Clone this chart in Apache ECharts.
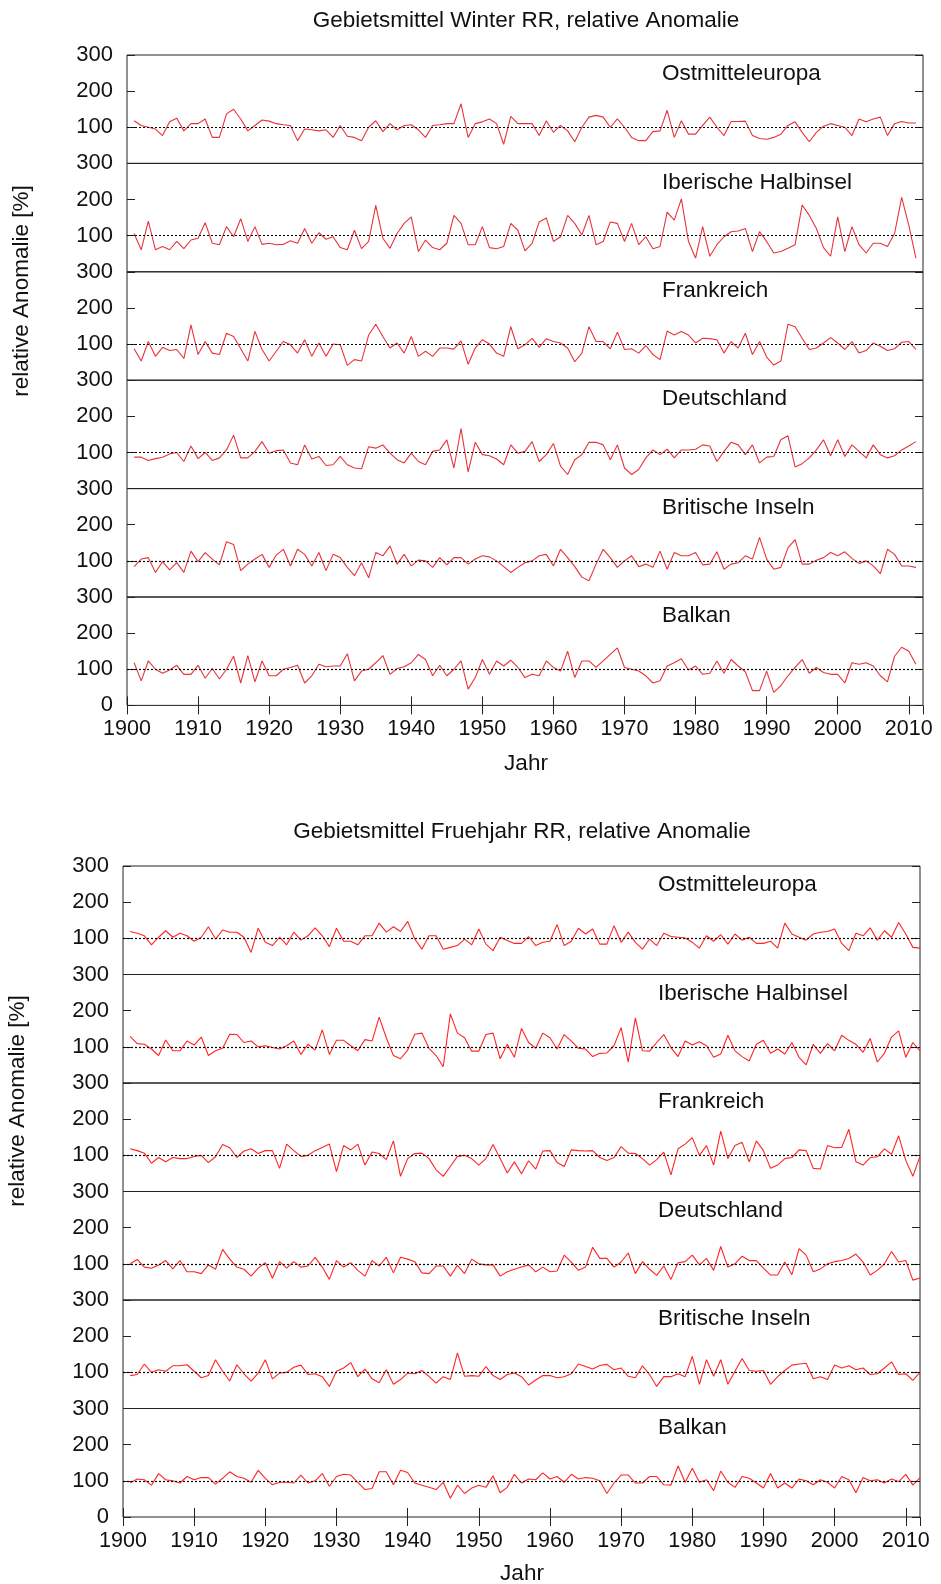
<!DOCTYPE html>
<html>
<head>
<meta charset="utf-8">
<title>Gebietsmittel RR, relative Anomalie</title>
<script src="https://cdn.jsdelivr.net/npm/echarts@6/dist/echarts.min.js"></script>
<style>
  html, body { margin: 0; padding: 0; background: #fff; }
  #chart { width: 941px; height: 1584px; }
</style>
</head>
<body>
<div id="chart"></div>
<script>
// Regionen (Reihenfolge von oben nach unten)
const regions = ['Ostmitteleuropa', 'Iberische Halbinsel', 'Frankreich', 'Deutschland', 'Britische Inseln', 'Balkan']

// Winter, 1901-2011, relative Anomalie in %
const winterStartYear = 1901
const winterOst = [
  118, 105, 100, 95, 77, 115, 125, 90, 110, 110,
  123, 72, 72, 137, 150, 123, 90, 105, 120, 117,
  110, 107, 105, 63, 95, 93, 90, 93, 72, 105,
  75, 72, 63, 100, 118, 88, 110, 93, 105, 107,
  93, 72, 105, 107, 110, 110, 165, 72, 110, 115,
  123, 110, 53, 130, 110, 110, 110, 77, 118, 86,
  105, 90, 60, 100, 128, 133, 128, 100, 123, 100,
  72, 63, 63, 88, 90, 147, 72, 118, 81, 81,
  105, 128, 100, 77, 116, 116, 117, 77, 69, 67,
  72, 81, 105, 115, 86, 60, 86, 103, 110, 105,
  100, 77, 123, 115, 123, 128, 77, 110, 116, 112,
  112
]
const winterIber = [
  106, 61, 140, 61, 70, 61, 84, 64, 88, 93,
  136, 79, 75, 125, 97, 147, 84, 125, 76, 79,
  75, 76, 86, 79, 120, 79, 108, 90, 97, 67,
  61, 115, 64, 84, 184, 93, 65, 106, 134, 152,
  56, 88, 67, 61, 79, 156, 134, 75, 75, 125,
  67, 64, 70, 134, 115, 58, 79, 138, 149, 84,
  97, 156, 134, 102, 156, 75, 84, 138, 134, 84,
  134, 75, 97, 64, 70, 165, 143, 202, 84, 38,
  125, 43, 75, 97, 111, 113, 120, 56, 111, 84,
  52, 56, 65, 75, 185, 156, 120, 67, 43, 152,
  56, 125, 75, 52, 79, 79, 70, 106, 206, 129,
  38
]
const winterFra = [
  87, 53, 107, 66, 91, 82, 85, 60, 153, 71,
  107, 75, 71, 130, 121, 87, 53, 135, 85, 53,
  80, 107, 98, 75, 112, 66, 103, 66, 100, 98,
  41, 57, 53, 125, 155, 121, 89, 103, 75, 121,
  66, 80, 66, 89, 89, 86, 109, 44, 89, 112,
  100, 75, 66, 148, 87, 98, 116, 91, 115, 107,
  103, 89, 51, 75, 148, 107, 107, 87, 133, 85,
  87, 75, 96, 71, 57, 136, 125, 135, 125, 103,
  116, 115, 112, 75, 107, 89, 130, 71, 107, 64,
  42, 53, 155, 148, 116, 85, 89, 103, 118, 103,
  85, 107, 75, 82, 103, 94, 82, 87, 105, 107,
  85
]
const winterDeu = [
  87, 87, 78, 83, 87, 96, 100, 75, 118, 83,
  100, 78, 85, 107, 148, 85, 85, 103, 130, 98,
  105, 107, 71, 66, 121, 82, 89, 64, 66, 89,
  66, 57, 55, 116, 112, 121, 98, 80, 71, 98,
  75, 66, 103, 107, 135, 57, 166, 46, 128, 94,
  91, 82, 66, 121, 98, 103, 130, 75, 94, 125,
  62, 39, 80, 94, 128, 128, 121, 80, 121, 57,
  39, 53, 85, 107, 94, 109, 85, 107, 107, 109,
  121, 118, 75, 103, 128, 121, 94, 121, 71, 87,
  89, 135, 146, 60, 69, 85, 107, 135, 91, 135,
  89, 121, 103, 85, 121, 94, 85, 91, 107, 118,
  130
]
const winterBrit = [
  84, 105, 109, 68, 98, 75, 95, 68, 127, 98,
  123, 105, 89, 153, 145, 73, 91, 105, 118, 82,
  116, 132, 86, 132, 118, 86, 123, 73, 118, 109,
  82, 59, 95, 53, 123, 114, 141, 91, 118, 86,
  102, 100, 82, 109, 89, 109, 109, 91, 105, 114,
  111, 100, 84, 68, 82, 95, 100, 114, 118, 86,
  132, 109, 84, 55, 45, 91, 132, 109, 82, 100,
  114, 84, 91, 82, 127, 77, 123, 114, 114, 123,
  89, 91, 125, 77, 91, 95, 114, 105, 165, 105,
  77, 82, 136, 159, 91, 91, 102, 109, 123, 114,
  125, 107, 93, 100, 86, 65, 132, 118, 86, 86,
  82
]
const winterBalk = [
  118, 68, 123, 100, 89, 98, 111, 86, 86, 111,
  75, 102, 73, 100, 136, 62, 138, 65, 123, 82,
  82, 100, 105, 111, 62, 82, 114, 107, 109, 109,
  143, 68, 95, 100, 118, 138, 86, 102, 107, 118,
  141, 127, 82, 111, 82, 100, 123, 45, 77, 127,
  86, 123, 109, 125, 105, 77, 86, 82, 123, 105,
  95, 150, 77, 123, 123, 105, 123, 141, 159, 105,
  100, 95, 82, 62, 68, 109, 118, 129, 98, 109,
  86, 89, 123, 89, 127, 109, 93, 41, 41, 95,
  36, 55, 82, 105, 127, 89, 105, 91, 86, 86,
  62, 118, 114, 118, 109, 82, 65, 136, 161, 150,
  114
]

// Fruehjahr, 1901-2012, relative Anomalie in %
const springStartYear = 1901
const springOst = [
  119, 114, 107, 82, 103, 121, 103, 114, 107, 92,
  103, 132, 98, 123, 117, 117, 103, 61, 128, 89,
  80, 103, 82, 117, 95, 107, 129, 107, 77, 128,
  92, 92, 82, 107, 107, 142, 117, 132, 119, 147,
  98, 70, 107, 107, 70, 75, 80, 98, 82, 126,
  84, 66, 103, 94, 86, 86, 105, 80, 89, 92,
  138, 80, 92, 128, 112, 126, 84, 84, 135, 89,
  117, 89, 70, 98, 80, 114, 105, 103, 101, 89,
  73, 107, 92, 110, 84, 112, 95, 103, 86, 86,
  92, 73, 142, 112, 103, 95, 112, 117, 119, 126,
  86, 66, 114, 107, 129, 95, 121, 103, 144, 112,
  75, 73
]
const springIber = [
  129, 109, 107, 94, 76, 119, 89, 89, 116, 105,
  127, 76, 89, 96, 135, 134, 112, 116, 100, 103,
  98, 94, 103, 116, 79, 107, 91, 147, 79, 118,
  118, 103, 89, 120, 116, 182, 125, 76, 67, 91,
  135, 138, 96, 76, 45, 191, 138, 125, 88, 88,
  134, 138, 67, 107, 71, 151, 112, 96, 138, 125,
  94, 134, 116, 96, 94, 73, 82, 83, 103, 153,
  58, 180, 89, 88, 112, 134, 98, 73, 116, 105,
  114, 103, 71, 80, 132, 89, 73, 61, 107, 118,
  82, 94, 80, 112, 71, 50, 107, 82, 109, 89,
  132, 118, 107, 85, 123, 58, 82, 127, 144, 71,
  112, 89
]
const springFra = [
  118, 113, 106, 78, 94, 82, 94, 91, 91, 97,
  100, 80, 96, 130, 121, 94, 112, 118, 105, 113,
  113, 64, 131, 113, 97, 100, 113, 122, 131, 55,
  127, 115, 131, 73, 109, 105, 88, 140, 42, 91,
  105, 106, 91, 60, 42, 69, 97, 100, 91, 73,
  91, 130, 91, 51, 82, 49, 85, 62, 112, 113,
  80, 69, 115, 113, 112, 113, 94, 86, 94, 124,
  106, 105, 91, 73, 88, 109, 46, 118, 131, 149,
  100, 127, 73, 167, 91, 127, 136, 82, 140, 113,
  64, 73, 91, 94, 115, 113, 64, 62, 127, 121,
  122, 172, 82, 73, 94, 96, 118, 103, 154, 86,
  42, 97
]
const springDeu = [
  100, 112, 91, 88, 97, 109, 86, 109, 78, 78,
  73, 97, 85, 140, 113, 91, 85, 66, 88, 103,
  60, 106, 88, 106, 91, 94, 118, 91, 57, 109,
  91, 103, 82, 66, 109, 94, 118, 75, 118, 113,
  106, 75, 73, 94, 94, 66, 96, 73, 113, 100,
  97, 97, 66, 78, 85, 91, 97, 78, 91, 78,
  80, 124, 105, 82, 91, 146, 115, 115, 91, 105,
  130, 73, 106, 85, 68, 94, 57, 103, 106, 124,
  97, 115, 82, 148, 91, 100, 121, 109, 109, 88,
  69, 69, 105, 70, 142, 124, 78, 86, 100, 106,
  109, 115, 127, 105, 69, 82, 100, 134, 105, 109,
  55, 61
]
const springBrit = [
  91, 94, 123, 100, 107, 103, 118, 118, 121, 103,
  85, 91, 135, 103, 76, 121, 96, 76, 98, 135,
  82, 98, 100, 114, 120, 94, 96, 88, 61, 103,
  112, 127, 88, 109, 82, 71, 107, 67, 80, 98,
  96, 105, 89, 70, 88, 80, 154, 89, 91, 89,
  116, 91, 80, 94, 98, 88, 65, 79, 91, 91,
  85, 88, 96, 123, 116, 109, 119, 122, 107, 112,
  89, 85, 118, 94, 61, 88, 88, 96, 88, 144,
  67, 135, 89, 135, 67, 103, 138, 105, 103, 105,
  67, 88, 105, 120, 123, 125, 82, 88, 80, 120,
  112, 118, 107, 112, 94, 96, 112, 129, 94, 96,
  78, 100
]
const springBalk = [
  94, 105, 103, 88, 120, 103, 100, 94, 112, 103,
  109, 109, 91, 107, 125, 112, 107, 96, 129, 107,
  89, 96, 96, 94, 116, 94, 100, 120, 85, 112,
  118, 116, 96, 76, 79, 125, 125, 89, 129, 123,
  94, 88, 82, 76, 96, 52, 88, 65, 80, 88,
  82, 114, 67, 82, 118, 94, 105, 103, 122, 105,
  112, 96, 118, 105, 109, 107, 100, 65, 94, 116,
  116, 94, 94, 112, 112, 89, 88, 141, 96, 135,
  96, 103, 73, 127, 96, 82, 112, 107, 94, 80,
  120, 80, 94, 80, 105, 100, 89, 103, 96, 80,
  112, 103, 67, 109, 100, 103, 94, 105, 98, 118,
  88, 109
]

const fontFamily = '"Liberation Sans", Arial, sans-serif'
const textColor = '#111'

// Paneele: Position und Stil
const panels = [
  {
    title: 'Gebietsmittel Winter RR, relative Anomalie',
    startYear: winterStartYear,
    series: [winterOst, winterIber, winterFra, winterDeu, winterBrit, winterBalk],
    left: 127, width: 796, top: 55, stripH: 108.4,
    lineColor: '#e8333b',
    titlePos: [526, 21], yNamePos: [22, 291], jahrPos: [526, 764], regionX: 662
  },
  {
    title: 'Gebietsmittel Fruehjahr RR, relative Anomalie',
    startYear: springStartYear,
    series: [springOst, springIber, springFra, springDeu, springBrit, springBalk],
    left: 123, width: 797, top: 866, stripH: 108.5,
    lineColor: '#ff2424',
    titlePos: [522, 832], yNamePos: [18, 1101], jahrPos: [522, 1574], regionX: 658
  }
]

const grids = []
const xAxes = []
const yAxes = []
const seriesList = []
const graphics = []

function textEl(text, x, y, size, rotation) {
  return {
    type: 'text',
    x: x,
    y: y,
    rotation: rotation || 0,
    style: {
      text: text,
      x: 0,
      y: 0,
      align: 'center',
      verticalAlign: 'middle',
      font: size + 'px ' + fontFamily,
      fill: textColor
    }
  }
}

panels.forEach(p => {
  graphics.push(textEl(p.title, p.titlePos[0], p.titlePos[1], 22.5))
  graphics.push(textEl('relative Anomalie [%]', p.yNamePos[0], p.yNamePos[1], 22.5, Math.PI / 2))
  graphics.push(textEl('Jahr', p.jahrPos[0], p.jahrPos[1], 22.5))

  p.series.forEach((vals, si) => {
    const last = si === p.series.length - 1
    const gi = grids.length
    const gTop = p.top + si * p.stripH
    grids.push({
      left: p.left,
      top: gTop,
      width: p.width,
      height: p.stripH,
      show: true,
      borderColor: '#222',
      borderWidth: 1,
      backgroundColor: 'transparent'
    })

    // x-Achse unten
    const xi = xAxes.length
    xAxes.push({
      gridIndex: gi,
      type: 'value',
      min: 1900,
      max: 2012,
      interval: 10,
      axisLine: { show: false },
      splitLine: { show: false },
      axisTick: { show: last, inside: true, length: 9, lineStyle: { color: '#222' } },
      axisLabel: {
        show: last,
        margin: 13,
        fontSize: 21.5,
        fontFamily: fontFamily,
        color: textColor,
        showMaxLabel: false,
        formatter: v => (v % 10 === 0 ? String(v) : '')
      }
    })
    // gespiegelte Ticks oben im letzten Streifen
    if (last) {
      xAxes.push({
        gridIndex: gi,
        type: 'value',
        position: 'top',
        min: 1900,
        max: 2012,
        interval: 10,
        axisLine: { show: false },
        splitLine: { show: false },
        axisTick: { show: true, inside: true, length: 9, lineStyle: { color: '#222' } },
        axisLabel: { show: false }
      })
    }

    // y-Achse links mit Beschriftung
    const yi = yAxes.length
    yAxes.push({
      gridIndex: gi,
      type: 'value',
      min: 0,
      max: 300,
      interval: 100,
      axisLine: { show: false },
      splitLine: { show: false },
      axisTick: { show: true, inside: true, length: 8, lineStyle: { color: '#222' } },
      axisLabel: {
        margin: 14,
        fontSize: 22,
        fontFamily: fontFamily,
        color: textColor,
        formatter: v => (v === 0 && !last ? '' : String(v))
      }
    })
    // y-Achse rechts, nur Ticks
    yAxes.push({
      gridIndex: gi,
      type: 'value',
      position: 'right',
      min: 0,
      max: 300,
      interval: 100,
      axisLine: { show: false },
      splitLine: { show: false },
      axisTick: { show: true, inside: true, length: 8, lineStyle: { color: '#222' } },
      axisLabel: { show: false }
    })

    seriesList.push({
      name: regions[si],
      type: 'line',
      xAxisIndex: xi,
      yAxisIndex: yi,
      showSymbol: false,
      silent: true,
      animation: false,
      lineStyle: { color: p.lineColor, width: 1.1 },
      data: vals.map((v, i) => [p.startYear + i, v]),
      markLine: {
        silent: true,
        symbol: 'none',
        label: { show: false },
        lineStyle: { color: '#000', type: [2, 2], width: 1.2 },
        data: [{ yAxis: 100 }]
      }
    })

    graphics.push({
      type: 'text',
      x: p.regionX,
      y: gTop + 19,
      style: {
        text: regions[si],
        x: 0,
        y: 0,
        align: 'left',
        verticalAlign: 'middle',
        font: '22.5px ' + fontFamily,
        fill: textColor
      }
    })
  })
})

const chart = echarts.init(document.getElementById('chart'), null, { renderer: 'canvas' })
chart.setOption({
  animation: false,
  backgroundColor: '#fff',
  grid: grids,
  xAxis: xAxes,
  yAxis: yAxes,
  series: seriesList,
  graphic: { elements: graphics }
})
</script>
</body>
</html>
